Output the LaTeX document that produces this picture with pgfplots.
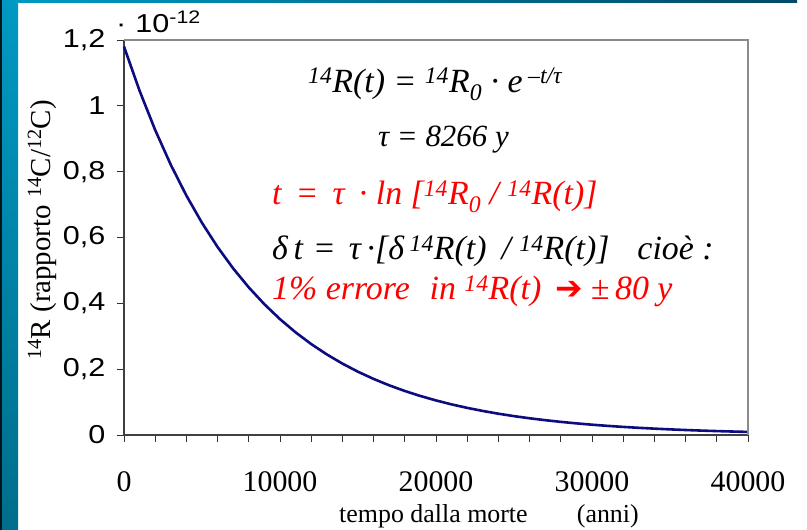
\documentclass[border=0pt]{standalone}
\usepackage{fontspec}
\setmainfont{Liberation Serif}
\newfontfamily\arial[FakeStretch=1.18]{Liberation Sans}
\newfontfamily\dejavu{DejaVu Sans}
\usepackage{pgfplots}
\pgfplotsset{compat=1.18}
\definecolor{curve}{HTML}{0C0C80}
\definecolor{bandtop}{HTML}{0099C2}
\definecolor{bandbot}{HTML}{006E8C}
\definecolor{topr}{HTML}{004A66}
\definecolor{boxgray}{HTML}{8A8A8A}
\begin{document}
\begin{tikzpicture}
\useasboundingbox (0,0) rectangle (807bp,530bp);
\fill[white] (0,0) rectangle (807bp,530bp);
\shade[top color=bandtop, bottom color=bandbot] (0,0) rectangle (18bp,530bp);
\fill[black!80!bandbot] (0,0) rectangle (2bp,530bp);
\shade[left color=bandtop, right color=topr] (18bp,527bp) rectangle (797bp,530bp);
\begin{axis}[
  at={(124bp,95bp)}, anchor=south west,
  scale only axis, width=624bp, height=395bp,
  xmin=0, xmax=40000, ymin=0, ymax=1.2,
  axis x line*=bottom, axis y line*=left,
  axis line style={black!75, line width=1.2bp},
  tick align=outside,
  xtick={0,10000,20000,30000,40000},
  xticklabels={0,10000,20000,30000,40000},
  minor x tick num=4,
  ytick={0,0.2,0.4,0.6,0.8,1,1.2},
  yticklabels={0,{0,2},{0,4},{0,6},{0,8},1,{1,2}},
  major tick length=7bp, minor tick length=7bp,
  tick style={black!80, line width=0.9bp},
  xticklabel style={font=\fontsize{30}{30}\selectfont, yshift=-26bp},
  yticklabel style={font=\arial\fontsize{26}{26}\selectfont, xshift=-8bp},
  scaled x ticks=false, scaled y ticks=false,
  clip=false,
]
\addplot[curve, line width=2.6bp] coordinates {
(0,1.1800) (1000,1.04554) (2000,0.92640) (3000,0.82084) (4000,0.72730)
(5000,0.64443) (6000,0.57100) (7000,0.50593) (8000,0.44828) (9000,0.39720)
(10000,0.35194) (11000,0.31184) (12000,0.27630) (13000,0.24482) (14000,0.21692)
(15000,0.19220) (16000,0.17030) (17000,0.15090) (18000,0.13370) (19000,0.11847)
(20000,0.10497) (21000,0.09301) (22000,0.08241) (23000,0.07302) (24000,0.06470)
(25000,0.05733) (26000,0.05079) (27000,0.04501) (28000,0.03988) (29000,0.03533)
(30000,0.03131) (31000,0.02774) (32000,0.02458) (33000,0.02178) (34000,0.01930)
(35000,0.01710) (36000,0.01515) (37000,0.01342) (38000,0.01189) (39000,0.01054)
(40000,0.00934)};
\draw[boxgray, line width=2bp] (rel axis cs:0,1) -- (rel axis cs:1,1) -- (rel axis cs:1,0);
\end{axis}
% labels
\node[anchor=base west, inner sep=0] at (116bp,497bp) {\arial\fontsize{26}{26}\selectfont ·\hspace{9bp}10\textsuperscript{-12}};
\node[rotate=90, anchor=base, inner sep=0] at (50bp,300bp) {\fontsize{29}{29}\selectfont \textsuperscript{14}R (rapporto \textsuperscript{14}C/\textsuperscript{12}C)};
\node[anchor=base west, inner sep=0] at (339bp,8bp) {\fontsize{26}{26}\selectfont tempo dalla morte\hspace{1.9em}(anni)};
% annotations
\node[anchor=base west, inner sep=0] at (308bp,437bp) {\fontsize{34}{34}\selectfont\itshape \textsuperscript{14}R(t) = \textsuperscript{14}R\textsubscript{0} · e\,\textsuperscript{–t/τ}};
\node[anchor=base west, inner sep=0] at (378bp,383bp) {\fontsize{31}{31}\selectfont\itshape τ = 8266 y};
\node[anchor=base west, inner sep=0, text=red] at (272bp,325bp) {\fontsize{34}{34}\selectfont\itshape t \,=\, τ \,· ln [\textsuperscript{14}R\textsubscript{0} / \textsuperscript{14}R(t)]};
\node[anchor=base west, inner sep=0] at (272bp,270bp) {\fontsize{34}{34}\selectfont\itshape δ\,t\hspace{10bp}=\hspace{13bp}τ\,·[δ\,\textsuperscript{14}R(t)\hspace{15bp}/ \textsuperscript{14}R(t)]\hspace{28bp}cioè :};
\node[anchor=base west, inner sep=0, text=red] at (272bp,230bp) {\fontsize{34}{34}\selectfont\itshape 1\% errore\,\, in \textsuperscript{14}R(t)\hspace{14bp}{\upshape\dejavu\fontsize{33}{33}\selectfont ➔}\hspace{8bp}±\,80 y};
\end{tikzpicture}
\end{document}
